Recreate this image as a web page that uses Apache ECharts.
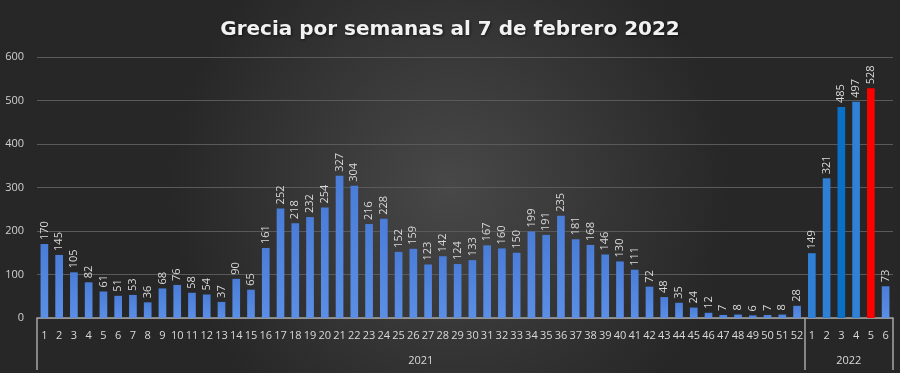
<!DOCTYPE html>
<html><head><meta charset="utf-8">
<script src="https://cdn.jsdelivr.net/npm/echarts@6/dist/echarts.min.js"></script>
<style>html,body{margin:0;padding:0;background:#333;}#c{width:900px;height:373px;}</style>
</head><body><div id="c"></div>
<script>
const title = 'Grecia por semanas al 7 de febrero 2022';
const weeks2021 = ['1','2','3','4','5','6','7','8','9','10','11','12','13','14','15','16','17','18','19','20','21','22','23','24','25','26','27','28','29','30','31','32','33','34','35','36','37','38','39','40','41','42','43','44','45','46','47','48','49','50','51','52'];
const weeks2022 = ['1','2','3','4','5','6'];
const values2021 = [170,145,105,82,61,51,53,36,68,76,58,54,37,90,65,161,252,218,232,254,327,304,216,228,152,159,123,142,124,133,167,160,150,199,191,235,181,168,146,130,111,72,48,35,24,12,7,8,6,7,8,28];
const values2022 = [149,321,485,497,528,73];
const years = ['2021','2022'];
const yTicks = [0,100,200,300,400,500,600];

const grad2021 = {type:'linear',x:0,y:0,x2:0,y2:1,colorStops:[{offset:0,color:'#4a7dd8'},{offset:1,color:'#5b8fe6'}]};
const col2022 = ['#2f7fd4','#2f7fd4','#0a6fc6','#2f80d6','#ff0000', grad2021];

const cats = weeks2021.concat(weeks2022);
const data = values2021.map(v => ({value:v, itemStyle:{color:grad2021}}))
  .concat(values2022.map((v,i) => ({value:v, itemStyle:{color:col2022[i]}})));

const n1 = weeks2021.length, n = cats.length;
const chart = echarts.init(document.getElementById('c'));
chart.setOption({
  backgroundColor:{type:'radial',x:0.5,y:0.5,r:0.75,colorStops:[{offset:0,color:'#484848'},{offset:1,color:'#272727'}]},
  animation:false,
  title:{text:title,left:'center',top:15,textStyle:{color:'#f2f2f2',fontFamily:'DejaVu Sans',fontWeight:'bold',fontSize:20,
    textShadowColor:'rgba(0,0,0,0.6)',textShadowBlur:3,textShadowOffsetX:1,textShadowOffsetY:1}},
  grid:{left:37,right:7,top:57,bottom:55},
  xAxis:[
    {type:'category',data:cats,position:'bottom',
     axisLine:{lineStyle:{color:'#a6a6a6',width:1.5}},axisTick:{show:false},
     axisLabel:{color:'#d9d9d9',fontSize:11,fontFamily:'Open Sans',margin:12,interval:0}},
    {type:'value',min:0,max:n,position:'bottom',
     axisLine:{show:false},splitLine:{show:false},
     axisTick:{show:true,customValues:[0,n1,n],length:52,lineStyle:{color:'#a6a6a6',width:1.5}},
     axisLabel:{customValues:[n1/2,(n1+n)/2],color:'#d9d9d9',fontSize:11,fontFamily:'Open Sans',margin:37,
       formatter:v => v < n1 ? years[0] : years[1]}}
  ],
  yAxis:{type:'value',min:yTicks[0],max:yTicks[yTicks.length-1],interval:100,
    axisLine:{show:false},axisTick:{show:false},
    axisLabel:{color:'#d0d0d0',fontSize:11,fontFamily:'Open Sans',margin:13},
    splitLine:{lineStyle:{color:'#5a5a5a',width:1}}},
  series:[{type:'bar',data:data,barWidth:'52%',xAxisIndex:0,
    label:{show:true,position:'top',rotate:90,align:'left',verticalAlign:'middle',distance:4,
      color:'#d9d9d9',fontSize:11,fontFamily:'Open Sans'}}]
});
</script></body></html>
